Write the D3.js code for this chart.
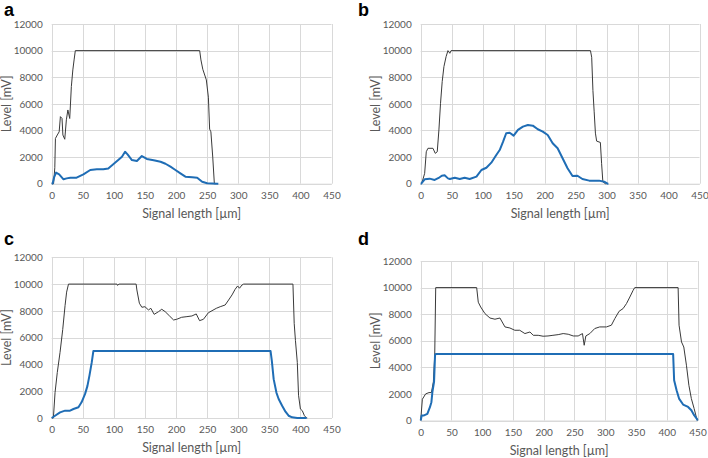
<!DOCTYPE html>
<html><head><meta charset="utf-8">
<script src="https://cdn.jsdelivr.net/npm/d3@7"></script>
<style>
html,body{margin:0;padding:0;background:#fff;}
svg{display:block;}
</style></head>
<body>
<svg id="chart" width="708" height="458"></svg>
<script>
// ---- data (signal length µm, level mV) ----
const xTicks = [0,50,100,150,200,250,300,350,400,450];
const yTicks = [0,2000,4000,6000,8000,10000,12000];
const panelLabels = ["a","b","c","d"];
const xTitle = "Signal length [µm]";
const yTitle = "Level [mV]";

const aBlack = [[0,0],[3,0],[5,1200],[6,3400],[9,3660],[12,3900],[14,5040],[16.6,4900],[18,3660],[21,3340],[23.6,4800],[26,5540],[29,4900],[31.6,7300],[34,8550],[36,9300],[38,10000],[238,10000],[240,9300],[243,8600],[248.7,7800],[252,6500],[254,4100],[256,3900],[259,2000],[261.6,0],[264,0]];
const aBlue = [[0,0],[1.6,30],[4,500],[7,830],[12,700],[19,330],[24,400],[30,450],[40,450],[51,700],[62,1030],[72.6,1080],[83,1080],[91,1150],[99,1460],[107,1780],[113,2030],[118,2400],[122,2200],[129,1780],[137,1700],[145,2080],[153,1860],[164,1760],[175,1650],[183,1500],[191,1280],[199,1030],[207,780],[215,530],[226,480],[234,450],[242,150],[250,30],[266,0],[268,0]];

const bBlack = [[0,0],[2,75],[6.4,780],[9,2400],[11.7,2660],[19.8,2660],[23.5,2280],[26.7,2400],[29.4,4040],[32,6040],[34.7,7670],[37.5,8800],[41,9550],[44,10000],[47,9800],[49,10000],[274,10000],[276,9500],[278,7000],[280,5400],[282,3800],[284,3200],[290,3100],[292,1500],[294,150],[298,0],[300,0]];
const bBlue = [[0,0],[0.8,0],[6.4,330],[14.5,380],[22.5,280],[29,430],[34,600],[38.6,630],[44,400],[47,350],[55,450],[63,350],[71,450],[79,350],[90,530],[98,1030],[106,1200],[114,1580],[122,2160],[127.5,2530],[133,3160],[138,3790],[143.6,3830],[150,3610],[157,4040],[165,4290],[173,4410],[181,4360],[189,4090],[197,3910],[205,3660],[213,3040],[221,2660],[229,1910],[237,1160],[245,580],[253,600],[261,350],[272,230],[288,230],[296,150],[301.6,0],[303,0]];

const cBlack = [[0,0],[2.7,0],[5.4,1900],[9,3400],[13.4,4900],[17.7,6600],[21.5,8400],[24,9400],[27,10000],[105,10000],[106,9900],[108,10000],[135.8,10000],[137,9560],[141,8570],[145,8270],[150,8310],[155.6,8070],[159.5,8190],[164.8,7740],[171.8,7940],[177,8120],[182.5,7940],[189.5,7620],[196,7320],[201,7370],[209,7520],[217.5,7570],[225.5,7620],[232.5,7770],[237.8,7270],[244,7370],[252,7860],[257.8,8010],[264.7,8190],[271,8310],[279,8440],[284.5,8810],[290,9190],[295,9610],[299,9860],[302,9690],[306,9930],[308.7,10000],[388,10000],[390,7070],[392,5800],[395,4150],[397,1700],[400,670],[403,550],[406.5,170],[410,0],[411,0]];
const cBlue = [[0,0],[5.4,170],[13.4,420],[21.5,550],[29.5,550],[35,670],[43,800],[48,1170],[53.7,1800],[57.5,2400],[60.7,3160],[64.4,4150],[67,5000],[352,5000],[354,4280],[357,2900],[361.4,1900],[365,1420],[370.6,920],[376,470],[381,170],[386.7,50],[395,0],[410,0]];

const dBlack = [[0,0],[2.7,1600],[8,2000],[13.5,2100],[17.4,2100],[20.6,2900],[22.8,4900],[24.4,10000],[91,10000],[93.6,8900],[97.5,8540],[104.5,8040],[112.6,7710],[120.7,7620],[128.8,7710],[137,7040],[145,6960],[153,6790],[161,6790],[169.4,6540],[177.6,6660],[183,6410],[191,6410],[199,6340],[207,6360],[215,6410],[223.5,6460],[231.6,6540],[239.8,6490],[248,6360],[256,6360],[263,6540],[265.8,5660],[268.5,6360],[275,6540],[283,6920],[291,7040],[302,7040],[310,7170],[315.6,7670],[322.6,8220],[329,8420],[334.6,8800],[340,9290],[345.4,9800],[348,10000],[418.5,10000],[420,7170],[424,5910],[427.7,5530],[432,4160],[436,2650],[440,1650],[444.5,900],[448,270],[450,0]];
const dBlue = [[0,0],[1.6,380],[5.4,380],[10.8,500],[15,1000],[17.4,1380],[19,2140],[21.7,2900],[23.3,4900],[24.4,5000],[410.4,5000],[412,3030],[416,2280],[420,1650],[426.6,1200],[434.7,1020],[440,770],[444.5,400],[449.3,100],[450,0]];

const panels = [
  {label:"a", black:aBlack, blue:aBlue, x0:51.7, x1:331.5, yTop:24, yBot:183.7, ox:0, oy:0},
  {label:"b", black:bBlack, blue:bBlue, x0:420.7, x1:699.5, yTop:24, yBot:183.7, ox:354, oy:0},
  {label:"c", black:cBlack, blue:cBlue, x0:51.7, x1:331.5, yTop:257.3, yBot:418, ox:0, oy:229},
  {label:"d", black:dBlack, blue:dBlue, x0:420.7, x1:697.5, yTop:261, yBot:420.5, ox:354, oy:229}
];

const svg = d3.select("#chart");
const FONT = "Lato, 'Open Sans', sans-serif";
const textCol = "#595959";

panels.forEach(p => {
  const g = svg.append("g");
  const x = d3.scaleLinear().domain([0,450]).range([p.x0,p.x1]);
  const y = d3.scaleLinear().domain([0,12000]).range([p.yBot,p.yTop]);

  // gridlines
  g.append("g").selectAll("line.h").data(yTicks).join("line")
    .attr("x1",p.x0).attr("x2",p.x1)
    .attr("y1",d=>Math.round(y(d))+0.5).attr("y2",d=>Math.round(y(d))+0.5)
    .attr("stroke","#d9d9d9").attr("stroke-width",1);
  g.append("g").selectAll("line.v").data(xTicks).join("line")
    .attr("x1",d=>Math.round(x(d))+0.5).attr("x2",d=>Math.round(x(d))+0.5)
    .attr("y1",p.yTop).attr("y2",p.yBot)
    .attr("stroke","#d9d9d9").attr("stroke-width",1);

  // axes (labels only)
  const xAxis = d3.axisBottom(x).tickValues(xTicks).tickSize(0).tickPadding(8).tickFormat(d3.format("d"));
  const gx = g.append("g").attr("transform",`translate(0,${p.yBot})`).call(xAxis);
  gx.select(".domain").attr("stroke","#d9d9d9");
  gx.selectAll("text").attr("fill",textCol).style("font-family",FONT).style("font-size","10px");

  const yAxis = d3.axisLeft(y).tickValues(yTicks).tickSize(0).tickPadding(9).tickFormat(d3.format("d"));
  const gy = g.append("g").attr("transform",`translate(${p.x0},0)`).call(yAxis);
  gy.select(".domain").remove();
  gy.selectAll("text").attr("fill",textCol).style("font-family",FONT).style("font-size","10px");

  // lines
  const line = d3.line().x(d=>x(d[0])).y(d=>y(d[1]));
  g.append("path").datum(p.black).attr("d",line)
    .attr("fill","none").attr("stroke","#3a3a3a").attr("stroke-width",1).attr("stroke-linejoin","round");
  g.append("path").datum(p.blue).attr("d",line)
    .attr("fill","none").attr("stroke","#1f6db5").attr("stroke-width",2).attr("stroke-linejoin","round");

  // titles
  g.append("text").attr("x",(p.x0+p.x1)/2).attr("y",p.yBot+34)
    .attr("text-anchor","middle").attr("fill",textCol)
    .style("font-family",FONT).style("font-size","12.5px").text(xTitle);
  g.append("text").attr("transform",`translate(${p.x0-41},${(p.yTop+p.yBot)/2}) rotate(-90)`)
    .attr("text-anchor","middle").attr("fill",textCol)
    .style("font-family",FONT).style("font-size","12.5px").text(yTitle);

  // panel letter
  g.append("text").attr("x",p.ox+4).attr("y",p.oy+16)
    .attr("fill","#000").style("font-family","'Liberation Sans', Arial, sans-serif")
    .style("font-weight","bold").style("font-size","18px").text(p.label);
});
</script>
</body></html>
